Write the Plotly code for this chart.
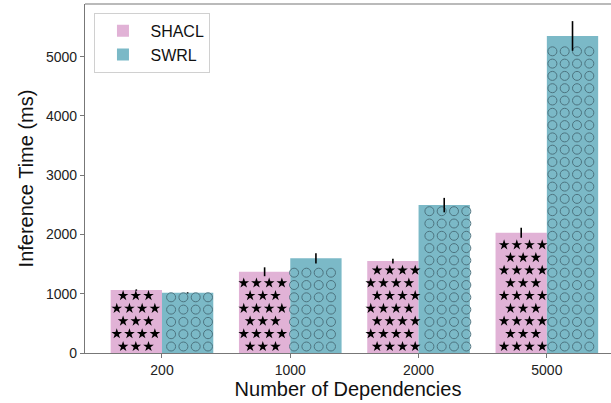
import numpy as np
import plotly.graph_objects as go

categories = ["200", "1000", "2000", "5000"]
shacl_ms = [1062, 1371, 1551, 2029]
shacl_err = [12, 75, 40, 85]
swrl_ms = [1015, 1597, 2496, 5351]
swrl_err = [10, 85, 122, 250]

PINK = "#e1b2d6"
TEAL = "#7bb9c7"
FONT = "Liberation Sans, Arial, sans-serif"

W, H = 611, 403
M_L, M_R, M_T, M_B = 85, 0, 4, 50
X_RANGE = [-0.6, 3.5]
Y_RANGE = [0, 5890]
BAR_W = 0.4

# pixel -> data unit helpers, used to lay the hatch marks out like a tile
px_x = (X_RANGE[1] - X_RANGE[0]) / (W - M_L - M_R)
px_y = (Y_RANGE[1] - Y_RANGE[0]) / (H - M_T - M_B)


def hatch_points(lefts, tops, step, stagger, pad):
    xs, ys = [], []
    dx, dy = step * px_x, step * px_y
    for left, top in zip(lefts, tops):
        right = left + BAR_W
        row = 0
        y = 6.5 * px_y
        while y <= top - pad * px_y:
            shift = dx / 2 if (stagger and row % 2) else 0
            k0 = int(np.floor((left - X_RANGE[0]) / dx)) - 1
            for k in range(k0, k0 + 12):
                x = X_RANGE[0] + k * dx + shift
                if left + pad * px_x <= x <= right - pad * px_x:
                    xs.append(x)
                    ys.append(y)
            y += dy
            row += 1
    return xs, ys


idx = np.arange(len(categories))
shacl_left = idx - BAR_W
swrl_left = idx.astype(float)

fig = go.Figure()

fig.add_trace(go.Bar(
    x=idx, y=shacl_ms, width=BAR_W, offset=-BAR_W,
    name="SHACL", marker=dict(color=PINK, line=dict(width=0)),
))
fig.add_trace(go.Bar(
    x=idx, y=swrl_ms, width=BAR_W, offset=0,
    name="SWRL", marker=dict(color=TEAL, line=dict(width=0)),
))

# star hatch on SHACL bars
sx, sy = hatch_points(shacl_left, shacl_ms, 12.7, True, 3)
fig.add_trace(go.Scatter(
    x=sx, y=sy, mode="markers", showlegend=False, hoverinfo="skip",
    marker=dict(symbol="star", size=8, color="black", line=dict(width=0)),
))

# circle hatch on SWRL bars
cx, cy = hatch_points(swrl_left, swrl_ms, 12.3, False, 3.5)
fig.add_trace(go.Scatter(
    x=cx, y=cy, mode="markers", showlegend=False, hoverinfo="skip",
    marker=dict(symbol="circle-open", size=9, color="#4d7480",
                line=dict(width=1, color="#4d7480")),
))

# error bars on top of the hatching
for centers, vals, errs in [(idx - BAR_W / 2, shacl_ms, shacl_err),
                            (idx + BAR_W / 2, swrl_ms, swrl_err)]:
    fig.add_trace(go.Scatter(
        x=centers, y=vals, mode="markers", showlegend=False, hoverinfo="skip",
        marker=dict(size=1, color="rgba(0,0,0,0)"),
        error_y=dict(type="data", array=errs, width=0, thickness=1.6, color="black"),
    ))

fig.update_layout(
    width=W, height=H,
    margin=dict(l=M_L, r=M_R, t=M_T, b=M_B, autoexpand=False),
    barmode="overlay",
    plot_bgcolor="white",
    paper_bgcolor="white",
    font=dict(family=FONT, color="#222"),
    showlegend=True,
    legend=dict(
        x=0.018, y=0.975, xanchor="left", yanchor="top",
        bgcolor="white", bordercolor="#d0d0d0", borderwidth=1,
        font=dict(size=16, color="#111"),
        itemwidth=45, tracegroupgap=2,
    ),
    xaxis=dict(
        range=X_RANGE, automargin=False,
        tickvals=list(idx), ticktext=categories,
        ticks="outside", ticklen=4, tickcolor="#777",
        tickfont=dict(size=14, color="#222"),
        showline=True, linecolor="#777", linewidth=1.2,
        mirror=False, showgrid=False, zeroline=False,
        title=dict(text="Number of Dependencies", font=dict(size=20, color="#111"), standoff=4),
    ),
    yaxis=dict(
        range=Y_RANGE, automargin=False,
        tickvals=[0, 1000, 2000, 3000, 4000, 5000],
        ticks="outside", ticklen=4, tickcolor="#777",
        tickfont=dict(size=14, color="#222"),
        showline=True, linecolor="#777", linewidth=1.2,
        showgrid=False, zeroline=False,
        title=dict(text="Inference Time (ms)", font=dict(size=20, color="#111"), standoff=6),
    ),
)

# top spine
fig.add_shape(type="line", xref="paper", yref="paper", x0=0, x1=1, y0=1, y1=1,
              line=dict(color="#777", width=1.2))

fig.write_html("out.html", config={"displayModeBar": False},
               post_script="document.body.style.margin='0';")
